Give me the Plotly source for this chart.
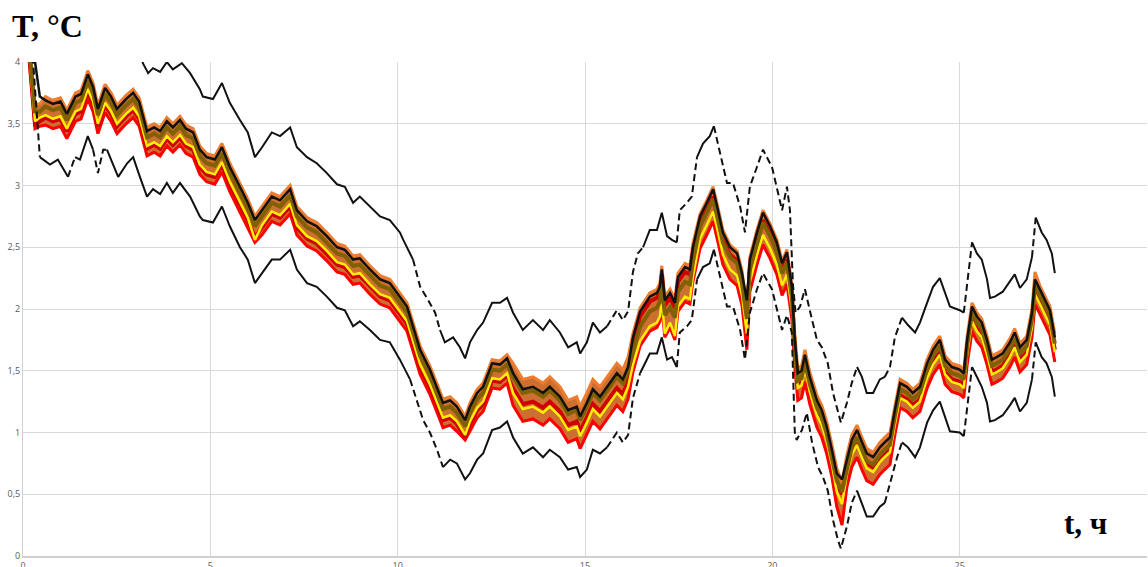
import plotly.graph_objects as go

# ---- time grid of the ensemble / mean curve, h ----
t_mean = [
    0.00, 0.32, 0.45, 0.60, 0.80, 1.00, 1.17, 1.40, 1.55, 1.73,
    1.87, 2.00, 2.19, 2.35, 2.51, 2.75, 2.94, 3.10, 3.31, 3.50,
    3.66, 3.84, 4.00, 4.19, 4.35, 4.54, 4.72, 4.90, 5.12, 5.31,
    5.52, 5.79, 6.00, 6.19, 6.38, 6.64, 6.86, 7.13, 7.31, 7.58,
    7.84, 8.11, 8.38, 8.59, 8.81, 8.99, 9.26, 9.53, 9.79, 10.06,
    10.25, 10.41, 10.60, 10.86, 11.05, 11.21, 11.40, 11.58, 11.80, 11.93,
    12.12, 12.28, 12.52, 12.73, 12.92, 13.08, 13.34, 13.61, 13.88, 14.06,
    14.33, 14.55, 14.78, 14.87, 15.05, 15.21, 15.40, 15.59, 15.85, 16.01,
    16.15, 16.28, 16.47, 16.73, 16.92, 17.00, 17.05, 17.13, 17.27, 17.40,
    17.48, 17.67, 17.80, 17.88, 18.07, 18.25, 18.42, 18.55, 18.68, 18.87,
    19.06, 19.19, 19.32, 19.40, 19.59, 19.75, 19.94, 20.12, 20.26, 20.39,
    20.52, 20.60, 20.68, 20.78, 20.87, 21.00, 21.19, 21.32, 21.45, 21.59,
    21.72, 21.86, 21.99, 22.12, 22.26, 22.39, 22.52, 22.69, 22.87, 23.00,
    23.14, 23.27, 23.41, 23.59, 23.75, 23.94, 24.13, 24.29, 24.47, 24.61,
    24.79, 25.00, 25.11, 25.20, 25.33, 25.46, 25.59, 25.73, 25.86, 25.99,
    26.15, 26.34, 26.47, 26.61, 26.79, 26.93, 27.01, 27.14, 27.28, 27.41,
    27.54,
]

# ---- mean temperature, °C ----
T_mean = [
    4.70, 4.00, 3.72, 3.69, 3.66, 3.68, 3.58, 3.72, 3.74, 3.90,
    3.80, 3.62, 3.79, 3.72, 3.62, 3.70, 3.75, 3.68, 3.44, 3.47,
    3.44, 3.52, 3.47, 3.53, 3.46, 3.43, 3.29, 3.23, 3.21, 3.31,
    3.15, 2.99, 2.86, 2.72, 2.80, 2.91, 2.88, 2.97, 2.80, 2.71,
    2.67, 2.59, 2.50, 2.48, 2.40, 2.41, 2.32, 2.24, 2.21, 2.10,
    2.02, 1.86, 1.67, 1.51, 1.37, 1.24, 1.26, 1.21, 1.10, 1.21,
    1.32, 1.37, 1.56, 1.55, 1.60, 1.48, 1.35, 1.37, 1.32, 1.37,
    1.29, 1.18, 1.21, 1.13, 1.24, 1.35, 1.29, 1.37, 1.48, 1.43,
    1.53, 1.77, 1.98, 2.10, 2.13, 2.18, 2.32, 2.07, 2.13, 2.05,
    2.26, 2.34, 2.32, 2.50, 2.75, 2.86, 2.97, 2.80, 2.62, 2.50,
    2.45, 2.29, 2.07, 2.40, 2.62, 2.78, 2.67, 2.54, 2.37, 2.46,
    2.18, 1.75, 1.48, 1.50, 1.63, 1.45, 1.26, 1.18, 1.05, 0.86,
    0.67, 0.62, 0.78, 0.94, 1.02, 0.92, 0.83, 0.80, 0.88, 0.92,
    0.96, 1.18, 1.40, 1.37, 1.32, 1.37, 1.56, 1.67, 1.75, 1.59,
    1.53, 1.51, 1.48, 1.75, 2.02, 1.94, 1.89, 1.75, 1.59, 1.61,
    1.64, 1.73, 1.81, 1.69, 1.75, 1.97, 2.24, 2.16, 2.07, 1.99,
    1.77,
]

# ---- ensemble members (same time grid) ----
T_orange = [
    4.70, 3.66, 3.66, 3.72, 3.69, 3.71, 3.61, 3.75, 3.77, 3.93,
    3.83, 3.65, 3.82, 3.75, 3.65, 3.73, 3.78, 3.71, 3.47, 3.50,
    3.47, 3.55, 3.50, 3.56, 3.49, 3.46, 3.32, 3.26, 3.24, 3.34,
    3.18, 3.02, 2.89, 2.75, 2.83, 2.94, 2.91, 3.00, 2.83, 2.74,
    2.70, 2.62, 2.53, 2.51, 2.43, 2.44, 2.35, 2.27, 2.24, 2.13,
    2.05, 1.89, 1.70, 1.54, 1.40, 1.27, 1.29, 1.24, 1.13, 1.24,
    1.35, 1.40, 1.59, 1.58, 1.63, 1.56, 1.43, 1.45, 1.40, 1.45,
    1.37, 1.26, 1.29, 1.21, 1.32, 1.43, 1.37, 1.45, 1.56, 1.51,
    1.61, 1.80, 2.01, 2.13, 2.16, 2.21, 2.35, 2.10, 2.16, 2.08,
    2.29, 2.37, 2.35, 2.53, 2.77, 2.88, 2.99, 2.82, 2.64, 2.52,
    2.47, 2.31, 2.00, 2.42, 2.64, 2.80, 2.69, 2.56, 2.39, 2.48,
    2.20, 1.79, 1.52, 1.54, 1.67, 1.49, 1.30, 1.22, 1.09, 0.90,
    0.71, 0.60, 0.82, 0.98, 1.06, 0.96, 0.87, 0.84, 0.92, 0.96,
    1.00, 1.21, 1.43, 1.40, 1.35, 1.40, 1.59, 1.70, 1.78, 1.62,
    1.56, 1.54, 1.51, 1.78, 2.05, 1.97, 1.92, 1.78, 1.62, 1.64,
    1.67, 1.76, 1.84, 1.72, 1.78, 2.00, 2.30, 2.19, 2.10, 2.02,
    1.80,
]

T_olive = [
    4.68, 3.60, 3.60, 3.64, 3.61, 3.63, 3.53, 3.67, 3.69, 3.85,
    3.75, 3.57, 3.74, 3.67, 3.57, 3.65, 3.70, 3.63, 3.39, 3.42,
    3.39, 3.47, 3.42, 3.48, 3.41, 3.38, 3.24, 3.18, 3.16, 3.26,
    3.10, 2.94, 2.81, 2.67, 2.75, 2.86, 2.83, 2.92, 2.75, 2.66,
    2.62, 2.54, 2.45, 2.43, 2.35, 2.36, 2.27, 2.19, 2.16, 2.05,
    1.97, 1.81, 1.62, 1.46, 1.32, 1.19, 1.21, 1.16, 1.05, 1.16,
    1.27, 1.32, 1.51, 1.50, 1.55, 1.45, 1.32, 1.34, 1.29, 1.34,
    1.26, 1.15, 1.18, 1.10, 1.21, 1.32, 1.26, 1.34, 1.45, 1.40,
    1.50, 1.65, 1.86, 1.98, 2.01, 2.06, 2.20, 1.95, 2.01, 1.93,
    2.14, 2.22, 2.20, 2.38, 2.67, 2.78, 2.89, 2.72, 2.54, 2.42,
    2.37, 2.21, 1.92, 2.32, 2.54, 2.70, 2.59, 2.46, 2.29, 2.38,
    2.10, 1.69, 1.42, 1.44, 1.57, 1.39, 1.20, 1.12, 0.99, 0.80,
    0.61, 0.52, 0.72, 0.88, 0.96, 0.86, 0.77, 0.74, 0.82, 0.86,
    0.90, 1.13, 1.35, 1.32, 1.27, 1.32, 1.51, 1.62, 1.70, 1.54,
    1.48, 1.46, 1.43, 1.70, 1.97, 1.89, 1.84, 1.70, 1.54, 1.56,
    1.59, 1.68, 1.76, 1.64, 1.70, 1.92, 2.19, 2.11, 2.02, 1.94,
    1.72,
]

T_yellow = [
    4.66, 3.52, 3.55, 3.57, 3.54, 3.56, 3.46, 3.60, 3.62, 3.78,
    3.68, 3.50, 3.67, 3.60, 3.50, 3.58, 3.63, 3.56, 3.32, 3.35,
    3.32, 3.40, 3.35, 3.41, 3.34, 3.31, 3.17, 3.11, 3.09, 3.19,
    3.03, 2.87, 2.74, 2.56, 2.68, 2.79, 2.76, 2.85, 2.68, 2.59,
    2.55, 2.47, 2.38, 2.36, 2.28, 2.29, 2.20, 2.12, 2.09, 1.98,
    1.90, 1.74, 1.55, 1.39, 1.25, 1.12, 1.14, 1.09, 0.98, 1.09,
    1.20, 1.25, 1.44, 1.43, 1.48, 1.32, 1.19, 1.21, 1.16, 1.21,
    1.13, 1.02, 1.05, 0.97, 1.08, 1.19, 1.13, 1.21, 1.32, 1.27,
    1.37, 1.55, 1.74, 1.86, 1.89, 1.94, 2.08, 1.80, 1.89, 1.78,
    2.02, 2.10, 2.08, 2.26, 2.57, 2.68, 2.79, 2.62, 2.44, 2.32,
    2.27, 2.11, 1.80, 2.22, 2.44, 2.60, 2.49, 2.36, 2.19, 2.28,
    2.00, 1.63, 1.36, 1.38, 1.51, 1.33, 1.14, 1.06, 0.93, 0.74,
    0.52, 0.42, 0.66, 0.82, 0.90, 0.80, 0.71, 0.68, 0.76, 0.80,
    0.84, 1.06, 1.28, 1.25, 1.20, 1.25, 1.44, 1.55, 1.63, 1.47,
    1.41, 1.39, 1.36, 1.63, 1.90, 1.82, 1.77, 1.63, 1.47, 1.49,
    1.52, 1.61, 1.69, 1.57, 1.63, 1.85, 2.12, 2.04, 1.95, 1.87,
    1.65,
]

T_darkred = [
    4.64, 3.50, 3.52, 3.55, 3.52, 3.54, 3.44, 3.58, 3.60, 3.76,
    3.66, 3.48, 3.65, 3.58, 3.48, 3.56, 3.61, 3.54, 3.30, 3.33,
    3.30, 3.38, 3.33, 3.39, 3.32, 3.29, 3.15, 3.09, 3.07, 3.17,
    3.01, 2.85, 2.72, 2.58, 2.66, 2.77, 2.74, 2.83, 2.66, 2.57,
    2.53, 2.45, 2.36, 2.34, 2.26, 2.27, 2.18, 2.10, 2.07, 1.96,
    1.88, 1.72, 1.53, 1.37, 1.23, 1.10, 1.12, 1.07, 0.96, 1.07,
    1.18, 1.23, 1.42, 1.41, 1.46, 1.36, 1.23, 1.25, 1.20, 1.25,
    1.17, 1.06, 1.09, 1.01, 1.12, 1.23, 1.17, 1.25, 1.36, 1.31,
    1.41, 1.73, 1.94, 2.06, 2.09, 2.14, 2.28, 2.03, 2.09, 2.01,
    2.22, 2.30, 2.28, 2.46, 2.69, 2.80, 2.91, 2.74, 2.56, 2.44,
    2.39, 2.23, 1.86, 2.34, 2.56, 2.72, 2.61, 2.48, 2.31, 2.40,
    2.12, 1.67, 1.40, 1.42, 1.55, 1.37, 1.18, 1.10, 0.97, 0.78,
    0.59, 0.50, 0.70, 0.86, 0.94, 0.84, 0.75, 0.72, 0.80, 0.84,
    0.88, 1.08, 1.30, 1.27, 1.22, 1.27, 1.46, 1.57, 1.65, 1.49,
    1.43, 1.41, 1.38, 1.65, 1.92, 1.84, 1.79, 1.65, 1.49, 1.51,
    1.54, 1.63, 1.71, 1.59, 1.65, 1.87, 2.14, 2.06, 1.97, 1.89,
    1.67,
]

T_red = [
    4.62, 3.46, 3.48, 3.49, 3.46, 3.48, 3.38, 3.52, 3.54, 3.70,
    3.60, 3.42, 3.59, 3.52, 3.42, 3.50, 3.55, 3.48, 3.24, 3.27,
    3.24, 3.32, 3.27, 3.33, 3.26, 3.23, 3.09, 3.03, 3.01, 3.11,
    2.95, 2.79, 2.66, 2.54, 2.60, 2.71, 2.68, 2.77, 2.60, 2.51,
    2.47, 2.39, 2.30, 2.28, 2.20, 2.21, 2.12, 2.04, 2.01, 1.90,
    1.82, 1.66, 1.47, 1.31, 1.17, 1.04, 1.06, 1.01, 0.94, 1.01,
    1.12, 1.17, 1.36, 1.35, 1.40, 1.22, 1.09, 1.11, 1.06, 1.11,
    1.03, 0.92, 0.95, 0.87, 0.98, 1.09, 1.03, 1.11, 1.22, 1.17,
    1.27, 1.49, 1.70, 1.82, 1.85, 1.90, 2.04, 1.77, 1.85, 1.75,
    1.98, 2.06, 2.04, 2.22, 2.49, 2.60, 2.71, 2.54, 2.36, 2.24,
    2.19, 2.03, 1.67, 2.14, 2.36, 2.52, 2.41, 2.28, 2.11, 2.20,
    1.92, 1.53, 1.26, 1.28, 1.41, 1.23, 1.04, 0.96, 0.83, 0.64,
    0.40, 0.25, 0.56, 0.72, 0.80, 0.70, 0.61, 0.58, 0.66, 0.70,
    0.74, 0.98, 1.20, 1.17, 1.12, 1.17, 1.36, 1.47, 1.55, 1.39,
    1.33, 1.31, 1.28, 1.55, 1.82, 1.74, 1.69, 1.55, 1.39, 1.41,
    1.44, 1.53, 1.61, 1.49, 1.55, 1.77, 2.04, 1.96, 1.87, 1.79,
    1.57,
]

# ---- upper bound ----
t_upper = [
    0.00, 0.45, 1.00, 1.73, 2.00, 2.19, 2.51, 2.94, 3.12, 3.20,
    3.34, 3.47, 3.66, 3.84, 4.00, 4.24, 4.46, 4.72, 4.80, 5.07,
    5.31, 5.52, 5.79, 6.00, 6.19, 6.38, 6.64, 6.86, 7.13, 7.31,
    7.58, 7.84, 8.11, 8.38, 8.59, 8.81, 8.99, 9.26, 9.53, 9.79,
    10.06, 10.15, 10.41, 10.60, 10.78, 11.00, 11.13, 11.26, 11.48, 11.66,
    11.80, 11.93, 12.12, 12.28, 12.52, 12.73, 12.92, 13.08, 13.34, 13.61,
    13.88, 14.06, 14.33, 14.55, 14.78, 14.87, 15.05, 15.21, 15.40, 15.59,
    15.85, 16.01, 16.15, 16.28, 16.41, 16.55, 16.73, 16.92, 17.05, 17.19,
    17.32, 17.45, 17.53, 17.72, 17.85, 17.99, 18.15, 18.33, 18.44, 18.60,
    18.79, 18.95, 19.14, 19.27, 19.40, 19.59, 19.75, 19.99, 20.12, 20.26,
    20.39, 20.47, 20.55, 20.62, 20.74, 20.87, 21.00, 21.19, 21.32, 21.48,
    21.62, 21.83, 21.99, 22.12, 22.26, 22.39, 22.52, 22.69, 22.87, 23.00,
    23.14, 23.27, 23.46, 23.62, 23.81, 23.94, 24.13, 24.29, 24.47, 24.61,
    24.74, 25.00, 25.11, 25.20, 25.33, 25.46, 25.59, 25.73, 25.81, 25.94,
    26.15, 26.34, 26.47, 26.61, 26.79, 26.93, 27.03, 27.19, 27.32, 27.46,
    27.54,
]
T_upper = [
    5.20, 4.25, 4.20, 4.42, 4.13, 4.30, 4.13, 4.26, 4.08, 3.99,
    3.91, 3.95, 3.92, 4.00, 3.94, 3.99, 3.91, 3.78, 3.72, 3.70,
    3.83, 3.67, 3.53, 3.43, 3.23, 3.31, 3.43, 3.40, 3.47, 3.31,
    3.23, 3.18, 3.10, 3.01, 2.99, 2.86, 2.91, 2.83, 2.75, 2.72,
    2.62, 2.56, 2.40, 2.18, 2.09, 1.97, 1.83, 1.73, 1.77, 1.69,
    1.60, 1.73, 1.83, 1.89, 2.05, 2.05, 2.09, 1.97, 1.83, 1.91,
    1.83, 1.91, 1.81, 1.69, 1.73, 1.64, 1.73, 1.89, 1.81, 1.86,
    1.99, 1.91, 1.98, 2.30, 2.45, 2.50, 2.64, 2.64, 2.78, 2.59,
    2.56, 2.54, 2.80, 2.86, 2.91, 3.23, 3.34, 3.40, 3.48, 3.27,
    3.02, 3.02, 2.83, 2.62, 2.99, 3.15, 3.29, 3.15, 2.99, 2.80,
    2.99, 2.80, 2.20, 1.97, 2.02, 2.16, 1.99, 1.75, 1.69, 1.56,
    1.32, 1.08, 1.24, 1.40, 1.53, 1.45, 1.32, 1.32, 1.43, 1.45,
    1.53, 1.77, 1.93, 1.87, 1.81, 1.89, 2.05, 2.18, 2.25, 2.13,
    2.02, 1.99, 1.97, 2.21, 2.54, 2.45, 2.40, 2.24, 2.09, 2.10,
    2.14, 2.22, 2.28, 2.17, 2.24, 2.42, 2.74, 2.62, 2.56, 2.45,
    2.29,
]

# ---- lower bound ----
t_lower = [
    0.00, 0.27, 0.45, 0.72, 0.93, 1.20, 1.39, 1.52, 1.73, 1.87,
    2.00, 2.14, 2.24, 2.54, 2.78, 2.94, 3.12, 3.31, 3.47, 3.66,
    3.84, 4.00, 4.19, 4.46, 4.72, 4.80, 5.07, 5.31, 5.52, 5.79,
    6.00, 6.19, 6.38, 6.64, 6.86, 7.13, 7.31, 7.58, 7.84, 8.11,
    8.38, 8.59, 8.81, 8.99, 9.26, 9.53, 9.79, 10.06, 10.33, 10.51,
    10.68, 10.86, 11.05, 11.21, 11.40, 11.58, 11.80, 11.93, 12.12, 12.28,
    12.52, 12.73, 12.92, 13.08, 13.34, 13.61, 13.88, 14.06, 14.33, 14.55,
    14.78, 14.87, 15.05, 15.21, 15.40, 15.59, 15.85, 16.01, 16.15, 16.28,
    16.47, 16.73, 16.92, 17.05, 17.19, 17.32, 17.45, 17.53, 17.72, 17.85,
    17.99, 18.15, 18.33, 18.44, 18.60, 18.79, 18.95, 19.14, 19.27, 19.40,
    19.59, 19.75, 19.99, 20.12, 20.26, 20.39, 20.52, 20.60, 20.65, 20.79,
    20.92, 21.06, 21.22, 21.35, 21.48, 21.62, 21.75, 21.83, 21.99, 22.12,
    22.26, 22.39, 22.52, 22.69, 22.87, 23.00, 23.14, 23.33, 23.46, 23.62,
    23.81, 23.94, 24.13, 24.29, 24.47, 24.61, 24.74, 25.00, 25.11, 25.20,
    25.33, 25.46, 25.59, 25.73, 25.81, 25.94, 26.15, 26.34, 26.47, 26.61,
    26.79, 26.93, 27.03, 27.19, 27.32, 27.46, 27.54,
]
T_lower = [
    4.30, 4.00, 3.23, 3.17, 3.21, 3.07, 3.23, 3.21, 3.40, 3.29,
    3.10, 3.29, 3.29, 3.07, 3.18, 3.23, 3.07, 2.91, 2.97, 2.93,
    3.02, 2.94, 3.02, 2.91, 2.75, 2.72, 2.70, 2.83, 2.67, 2.50,
    2.40, 2.21, 2.29, 2.40, 2.40, 2.48, 2.32, 2.21, 2.18, 2.10,
    2.01, 1.99, 1.86, 1.90, 1.83, 1.75, 1.73, 1.59, 1.43, 1.26,
    1.10, 1.00, 0.86, 0.72, 0.78, 0.75, 0.62, 0.67, 0.78, 0.83,
    1.02, 1.04, 1.09, 0.96, 0.83, 0.88, 0.80, 0.86, 0.80, 0.70,
    0.72, 0.64, 0.70, 0.86, 0.83, 0.88, 1.00, 0.92, 0.98, 1.28,
    1.48, 1.64, 1.64, 1.77, 1.59, 1.61, 1.53, 1.81, 1.86, 1.91,
    2.24, 2.34, 2.37, 2.48, 2.26, 2.02, 2.02, 1.83, 1.59, 1.97,
    2.16, 2.29, 2.16, 1.99, 1.83, 1.95, 1.81, 1.00, 0.94, 1.02,
    1.16, 0.92, 0.72, 0.64, 0.53, 0.29, 0.13, 0.06, 0.24, 0.43,
    0.53, 0.43, 0.32, 0.32, 0.40, 0.43, 0.59, 0.80, 0.92, 0.88,
    0.80, 0.88, 1.08, 1.18, 1.25, 1.13, 1.01, 1.00, 0.97, 1.21,
    1.53, 1.45, 1.37, 1.24, 1.09, 1.10, 1.14, 1.22, 1.28, 1.17,
    1.24, 1.43, 1.73, 1.61, 1.56, 1.45, 1.29,
]

# stretches (h) where the bound curves are drawn broken
upper_dashed = [(10.41, 11.13), (15.6, 16.55), (17.45, 18.0), (18.44, 22.3),
                (23.0, 23.5), (25.11, 25.35), (26.9, 27.05)]
lower_dashed = [(0.0, 0.5), (1.1, 1.45), (1.87, 2.2), (10.41, 11.13),
                (15.6, 16.55), (17.45, 18.0), (18.44, 22.3), (23.0, 23.5),
                (25.11, 25.35), (26.9, 27.05)]

y_ticks = [0, 0.5, 1, 1.5, 2, 2.5, 3, 3.5, 4]
x_ticks = [0, 5, 10, 15, 20, 25, 30]


def bound_traces(ts, vs, dashed):
    """Split a bound curve into solid and broken pieces."""
    def is_dashed(a, b):
        m = 0.5 * (a + b)
        return any(lo <= m <= hi for lo, hi in dashed)

    pieces = []
    cur_style = None
    cur_x, cur_y = [], []
    for i in range(len(ts) - 1):
        style = is_dashed(ts[i], ts[i + 1])
        if style != cur_style:
            if cur_x:
                pieces.append((cur_style, cur_x, cur_y))
            cur_style = style
            cur_x, cur_y = [ts[i]], [vs[i]]
        cur_x.append(ts[i + 1])
        cur_y.append(vs[i + 1])
    if cur_x:
        pieces.append((cur_style, cur_x, cur_y))

    out = []
    for dash, px, py in pieces:
        out.append(go.Scatter(
            x=px, y=py, mode="lines", showlegend=False, hoverinfo="skip",
            line=dict(color="#111111", width=2,
                      dash="7px,4px" if dash else "solid")))
    return out


fig = go.Figure()

# ensemble band
fig.add_trace(go.Scatter(x=t_mean, y=T_orange, mode="lines", showlegend=False,
                         line=dict(color="#ED7D31", width=3)))
fig.add_trace(go.Scatter(x=t_mean, y=T_red, mode="lines", showlegend=False,
                         fill="tonexty", fillcolor="rgba(200,95,25,0.9)",
                         line=dict(color="#FF0000", width=3)))
fig.add_trace(go.Scatter(x=t_mean, y=T_darkred, mode="lines", showlegend=False,
                         line=dict(color="#D00000", width=4)))
fig.add_trace(go.Scatter(x=t_mean, y=T_yellow, mode="lines", showlegend=False,
                         line=dict(color="#FFEE00", width=2.5)))
fig.add_trace(go.Scatter(x=t_mean, y=T_olive, mode="lines", showlegend=False,
                         line=dict(color="#806000", width=4)))

# bounds
for tr in bound_traces(t_upper, T_upper, upper_dashed):
    fig.add_trace(tr)
for tr in bound_traces(t_lower, T_lower, lower_dashed):
    fig.add_trace(tr)

# mean curve
fig.add_trace(go.Scatter(x=t_mean, y=T_mean, mode="lines", showlegend=False,
                         line=dict(color="#111111", width=2.5)))

fig.update_layout(
    width=1148, height=567,
    margin=dict(l=23, r=1, t=62, b=11),
    paper_bgcolor="white", plot_bgcolor="white",
    separators=", ",
    xaxis=dict(range=[0, 30], tickvals=x_ticks, showgrid=True,
               gridcolor="#D9D9D9", gridwidth=1, zeroline=False,
               showline=True, linecolor="#D0D0D0", linewidth=1.5,
               ticks="", tickfont=dict(family="Open Sans", size=9, color="#595959"),
               automargin=False),
    yaxis=dict(range=[0, 4], tickvals=y_ticks, showgrid=True,
               gridcolor="#D9D9D9", gridwidth=1, zeroline=False,
               showline=True, linecolor="#D0D0D0", linewidth=1,
               ticks="", tickfont=dict(family="Open Sans", size=9, color="#595959"),
               automargin=False),
    annotations=[
        dict(text="<b>T, °C</b>", xref="paper", yref="paper",
             x=-0.0115, y=1.114, xanchor="left", yanchor="top", showarrow=False,
             font=dict(family="Liberation Serif", size=32, color="black")),
        dict(text="<b>t, ч</b>", xref="paper", yref="paper",
             x=0.966, y=0.026, xanchor="right", yanchor="bottom", showarrow=False,
             font=dict(family="Liberation Serif", size=31, color="black")),
    ],
)

fig.write_html("out.html")
